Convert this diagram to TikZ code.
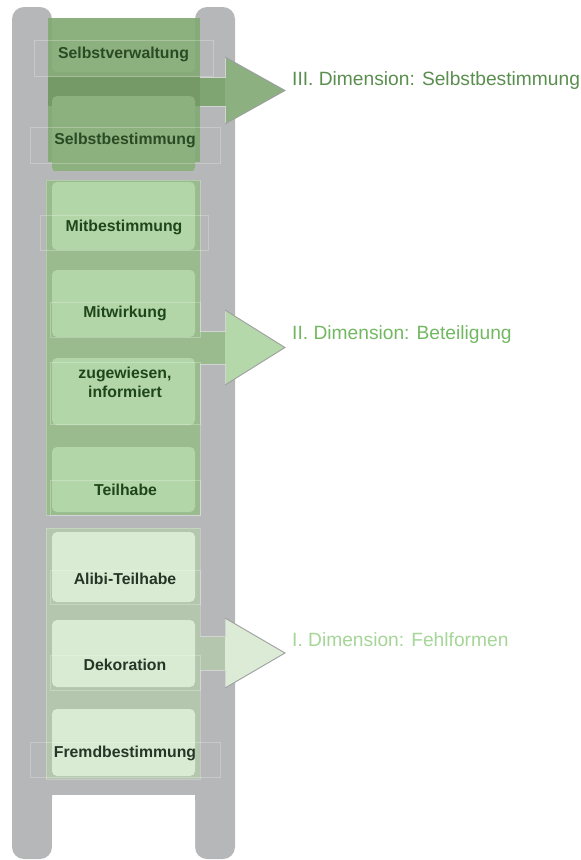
\documentclass[tikz,border=0pt]{standalone}
\usepackage{fontspec}
\setmainfont{Liberation Sans}
\definecolor{ladder}{HTML}{B5B7B8}
\definecolor{grpIII}{HTML}{86AA79}
\definecolor{bandIII}{HTML}{759A68}
\definecolor{boxIII}{HTML}{8DB07F}
\definecolor{arrIII}{HTML}{8CB07F}
\definecolor{shaftIII}{HTML}{7FA572}
\definecolor{grpII}{HTML}{9ABB8D}
\definecolor{boxII}{HTML}{B2D6A7}
\definecolor{arrII}{HTML}{B4D8A9}
\definecolor{grpI}{HTML}{B4C6AE}
\definecolor{boxI}{HTML}{DAEBD4}
\definecolor{arrI}{HTML}{DCEBD6}
\definecolor{txtIII}{HTML}{2A4A24}
\definecolor{txtII}{HTML}{1F461B}
\definecolor{txtI}{HTML}{263626}
\definecolor{labIII}{HTML}{5A8E4E}
\definecolor{labII}{HTML}{72B862}
\definecolor{labI}{HTML}{A5D597}
\definecolor{edgelight}{HTML}{D2D4D4}
\definecolor{edgedark}{HTML}{9E9FA0}
\begin{document}
\begin{tikzpicture}[x=1pt,y=-1pt,
  boxtxt/.style={font=\bfseries\fontsize{15.8}{19}\selectfont, anchor=base, inner sep=0pt, align=center},
  rungbox/.style={rounded corners=5pt},
  thinframe/.style={draw=white, draw opacity=0.25, line width=0.6pt},
  dimlabel/.style={font=\fontsize{19.2}{23}\selectfont, anchor=base west, inner sep=0pt},
  arrowedge/.style={draw=edgelight, line width=0.7pt},
  arrowdiag/.style={draw=edgedark, line width=0.9pt}]
\useasboundingbox (0,0) rectangle (581,860);
% ladder
\fill[ladder, rounded corners=12pt] (12,7) rectangle (52,859);
\fill[ladder, rounded corners=12pt] (195,7) rectangle (235,859);
\fill[ladder] (50,18) rectangle (197,795);
\fill[white, rounded corners=6pt] (52,795) rectangle (195,880);
% group III
\fill[grpIII] (48,18) rectangle (200,162);
\fill[bandIII] (48,77) rectangle (200,106);
\begin{scope}
\clip (40,18) rectangle (210,170);
\fill[boxIII, rungbox] (52,8) rectangle (195,72);
\fill[boxIII, rungbox] (52,96) rectangle (195,172);
\end{scope}
% group II
\fill[grpII] (46,180) rectangle (200,515);
\fill[boxII, rungbox] (52,182) rectangle (195,250);
\fill[boxII, rungbox] (52,270) rectangle (195,337);
\fill[boxII, rungbox] (52,358) rectangle (195,425);
\fill[boxII, rungbox] (52,447) rectangle (195,512);
\draw[thinframe] (46,180) rectangle (200,515);
% group I
\fill[grpI] (46,528) rectangle (200,779);
\fill[boxI, rungbox] (52,532) rectangle (195,602);
\fill[boxI, rungbox] (52,620) rectangle (195,687);
\fill[boxI, rungbox] (52,709) rectangle (195,776);
\draw[thinframe] (46,528) rectangle (200,779);
% arrows
\fill[shaftIII] (200,77) rectangle (225,106);
\fill[arrIII] (225,57) -- (285,90.5) -- (225,124) -- cycle;
\draw[arrowedge] (200,77) -- (225,77) -- (225,57);
\draw[arrowedge] (225,124) -- (225,106) -- (200,106);
\draw[arrowdiag] (225,57) -- (285,90.5) -- (225,124);
\fill[grpII] (200,331) rectangle (225,364);
\fill[arrII] (225,310) -- (285,347.5) -- (225,385) -- cycle;
\draw[arrowedge] (200,331) -- (225,331) -- (225,310);
\draw[arrowedge] (225,385) -- (225,364) -- (200,364);
\draw[arrowdiag] (225,310) -- (285,347.5) -- (225,385);
\fill[grpI] (200,636) rectangle (225,670);
\fill[arrI] (225,618) -- (285,653) -- (225,688) -- cycle;
\draw[arrowedge] (200,636) -- (225,636) -- (225,618);
\draw[arrowedge] (225,688) -- (225,670) -- (200,670);
\draw[arrowdiag] (225,618) -- (285,653) -- (225,688);
% thin text frames
\draw[thinframe] (34,40) rectangle (213,76);
\draw[thinframe] (30,127) rectangle (220,163);
\draw[thinframe] (40,215) rectangle (208,250);
\draw[thinframe] (50,302) rectangle (200,337);
\draw[thinframe] (50,362) rectangle (200,424);
\draw[thinframe] (50,480) rectangle (200,515);
\draw[thinframe] (50,570) rectangle (200,604);
\draw[thinframe] (50,655) rectangle (200,690);
\draw[thinframe] (30,742) rectangle (220,777);
% texts
\node[boxtxt, text=txtIII] (sv) at (123.5,58) {Selbstverwaltung};
\node[boxtxt, text=txtIII] (sb) at (125,144) {Selbstbestimmung};
\node[boxtxt, text=txtII] (mb) at (124,231) {Mitbestimmung};
\node[boxtxt, text=txtII] (mw) at (125,317) {Mitwirkung};
\node[boxtxt, text=txtII] (zw) at (125,378) {zugewiesen,};
\node[boxtxt, text=txtII] (inf) at (125,397) {informiert};
\node[boxtxt, text=txtII] (th) at (125.5,495) {Teilhabe};
\node[boxtxt, text=txtI] (at) at (125,584) {Alibi-Teilhabe};
\node[boxtxt, text=txtI] (dk) at (125,670) {Dekoration};
\node[boxtxt, text=txtI] (fb) at (125,757) {Fremdbestimmung};
\node[dimlabel, text=labIII] (d3) at (292,85) {III. Dimension: Selbstbestimmung};
\node[dimlabel, text=labII] (d2) at (292,339) {II. Dimension: Beteiligung};
\node[dimlabel, text=labI] (d1) at (292,646) {I. Dimension: Fehlformen};
\end{tikzpicture}
\end{document}
